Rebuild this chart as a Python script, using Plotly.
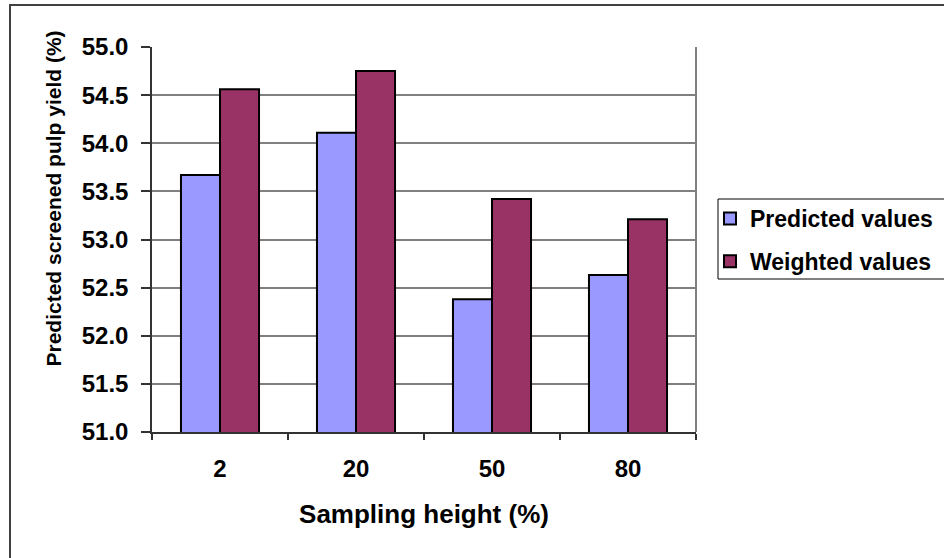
import plotly.graph_objects as go

# Sampling heights along the stem and the two yield estimates
heights = ["2", "20", "50", "80"]
predicted = [53.67, 54.11, 52.38, 52.63]
weighted = [54.56, 54.75, 53.42, 53.21]

y_ticks = [51.0, 51.5, 52.0, 52.5, 53.0, 53.5, 54.0, 54.5, 55.0]

W, H = 944, 558
L, R, T, B = 152, 696, 47, 432  # plot area edges in pixels


def px_x(x):
    return (x - L) / (R - L)


def px_y(y):
    return (B - y) / (B - T)


FONT = "Liberation Sans, Arial, sans-serif"

fig = go.Figure()
fig.add_trace(go.Bar(
    x=heights, y=predicted, name="Predicted values", legendgroup="p",
    marker=dict(color="#9999FF", line=dict(color="#000000", width=2)),
))
fig.add_trace(go.Bar(
    x=heights, y=weighted, name="Weighted values", legendgroup="w",
    marker=dict(color="#993366", line=dict(color="#000000", width=2)),
))

fig.update_layout(
    width=W, height=H,
    margin=dict(l=L, r=W - R, t=T, b=H - B, autoexpand=False),
    paper_bgcolor="white", plot_bgcolor="white",
    barmode="group", bargap=0.426, bargroupgap=0,
    font=dict(family=FONT, color="#000000", size=24, weight="bold"),
    showlegend=True,
    legend=dict(
        x=px_x(710), y=px_y(197), xanchor="left", yanchor="top",
        font=dict(family=FONT, size=23, color="#000000", weight="bold"),
        bgcolor="rgba(0,0,0,0)", borderwidth=0,
        traceorder="grouped", tracegroupgap=10,
        itemwidth=30,
    ),
    xaxis=dict(
        type="category",
        showline=True, linecolor="#333333", linewidth=1.5,
        ticks="outside", ticklen=6, tickcolor="#333333", tickwidth=1.5,
        tickson="boundaries",
        showgrid=False,
        tickfont=dict(family=FONT, size=24, weight="bold"),
        ticklabelstandoff=14,
        title=dict(text="Sampling height (%)", standoff=24,
                   font=dict(family=FONT, size=26, weight="bold")),
    ),
    yaxis=dict(
        range=[51.0, 55.0], tickvals=y_ticks, tickformat=".1f",
        showline=True, linecolor="#333333", linewidth=1.5,
        ticks="outside", ticklen=9, tickcolor="#333333", tickwidth=1.5,
        showgrid=True, gridcolor="#808080", gridwidth=1.5,
        zeroline=False,
        tickfont=dict(family=FONT, size=24, weight="bold"),
        ticklabelstandoff=8,
    ),
    annotations=[dict(
        text="Predicted screened pulp yield (%)",
        xref="paper", yref="paper", x=px_x(53), y=px_y(198.5),
        xanchor="center", yanchor="middle", textangle=-90, showarrow=False,
        font=dict(family=FONT, size=21, color="#000000", weight="bold"),
    )],
    shapes=[
        # right edge of the plot area
        dict(type="line", xref="paper", yref="paper", x0=1, x1=1, y0=0, y1=1,
             line=dict(color="#808080", width=2)),
        # legend frame
        dict(type="rect", xref="paper", yref="paper",
             x0=px_x(718), x1=px_x(960), y0=px_y(279), y1=px_y(199),
             line=dict(color="#000000", width=1)),
        # outer chart frame
        dict(type="rect", xref="paper", yref="paper",
             x0=px_x(10), x1=px_x(960), y0=px_y(570), y1=px_y(5),
             line=dict(color="#404040", width=2), layer="below"),
    ],
)

fig.write_html("out.html")
